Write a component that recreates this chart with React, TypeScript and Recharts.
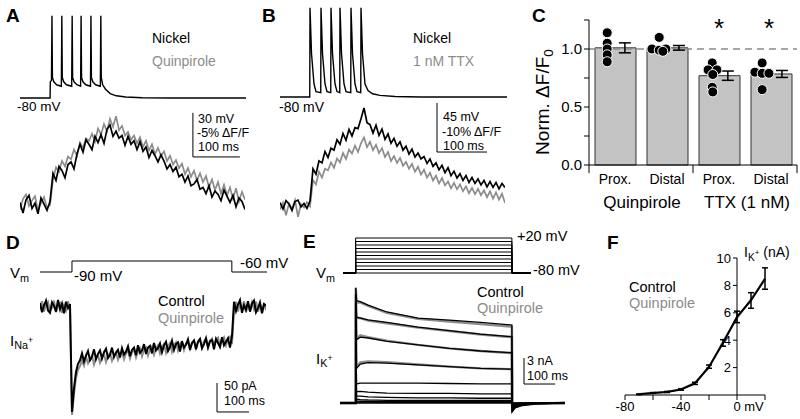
import React from "react"
import { LineChart, Line, XAxis, YAxis, ReferenceLine, ComposedChart, Bar, Scatter, ErrorBar } from "recharts"

// ---------- A: firing + fluorescence (Nickel vs Quinpirole)
const spikeATime = [0, 64, 64.5, 67, 68, 69, 72, 78, 88, 89, 90, 93, 99, 110, 111, 112, 115, 121, 129, 130, 131, 134, 140, 150, 151, 152, 155, 161, 171, 172, 173, 176, 182, 192, 205, 225, 260, 320, 481]
const spikeAVolt = [-80, -80, -69, -68, -24, -66, -69, -71, -72, -24, -66, -69, -71, -72, -24, -66, -69, -71, -72, -24, -66, -69, -71, -72, -24, -66, -69, -71, -72, -24, -66, -71, -74, -77, -78.5, -79.3, -79.8, -80, -80]

const fluoANickel = [
  0.3, -0.9, 0.6, 1.1, -0.4, 0.2, -1.0, 0.8, 0.1, -0.6, 0.4,
  3.6, 2.8, 4.4, 3.9, 3.1, 4.6, 4.9, 4.1, 5.8, 6.9,
  6.0, 7.4, 6.9, 6.3, 7.8, 7.1, 8.0, 7.0, 8.6, 9.1,
  7.8, 8.4, 7.6, 7.9, 6.8, 7.8, 6.9, 7.3, 6.3, 7.2,
  6.1, 6.6, 5.4, 6.2, 5.6, 4.9, 5.7, 5.0, 4.1, 4.6,
  3.8, 4.3, 3.2, 3.5, 2.6, 3.3, 2.2, 2.4, 2.9, 1.8,
  2.0, 1.3, 2.2, 0.9, 1.6, 1.2, 0.5, 1.7, 1.0, 0.3,
  1.1, -0.2, 0.8, 0.4, -0.5,
]
const fluoAQuin = [
  -0.5, 0.7, 1.2, -0.1, 0.5, 1.0, -0.6, 0.2, 0.9, -0.3, 0.0,
  2.9, 4.3, 3.8, 5.0, 4.4, 5.5, 5.2, 6.3, 5.6, 7.1,
  6.5, 7.6, 7.3, 8.1, 7.2, 8.7, 8.0, 9.2, 8.4, 9.8,
  8.9, 10.1, 8.5, 9.0, 7.9, 8.3, 7.4, 7.9, 7.0, 7.7,
  6.6, 7.3, 6.2, 6.9, 5.8, 6.5, 5.6, 6.1, 5.0, 5.6,
  4.6, 5.1, 4.2, 4.7, 3.5, 4.2, 3.2, 3.9, 2.8, 3.6,
  2.6, 3.3, 2.0, 2.9, 1.7, 2.6, 1.3, 2.3, 1.1, 2.0,
  0.7, 1.9, 0.4, 1.5, 0.6,
]

// ---------- B: firing + fluorescence (Nickel vs 1 nM TTX)
const spikeBTime = [0, 59.5, 60, 63, 68, 72, 81.5, 82, 85, 90, 94, 101.5, 102, 105, 110, 114, 119.5, 120, 123, 128, 132, 141.5, 142, 145, 150, 154, 161.5, 162, 165, 170, 176, 185, 200, 230, 280, 454]
const spikeBVolt = [-80, -80, 2, -40, -68, -75, -76, 2, -40, -68, -75, -76, 2, -40, -68, -75, -76, 2, -40, -68, -75, -76, 2, -40, -68, -75, -76, 2, -40, -68, -74, -77, -78.5, -79.5, -80, -80]

const fluoBNickel = [
  0.5, -0.8, 0.9, 0.2, -1.1, 0.7, 1.0, -0.4, 0.3, -0.7, 0.8,
  7.4, 6.3, 9.0, 8.6, 10.9, 9.7, 11.6, 11.2, 13.3, 12.4,
  14.6, 13.2, 15.4, 14.1, 15.8, 15.6, 17.6, 19.8, 16.8, 16.4,
  14.7, 16.3, 14.2, 15.5, 13.4, 14.5, 12.6, 13.6, 12.0, 12.9,
  11.2, 12.0, 10.4, 11.4, 9.8, 10.6, 9.4, 9.9, 8.5, 9.4,
  7.9, 8.6, 7.2, 8.1, 6.6, 7.6, 6.0, 6.9, 5.5, 6.4,
  5.0, 6.0, 4.6, 5.6, 4.4, 5.3, 4.1, 5.0, 3.7, 4.8,
  3.6, 4.6, 3.3, 4.4, 3.6,
]
const fluoBTTX = [
  -0.9, 0.5, -2.1, 0.3, -0.8, 1.0, -2.4, 0.2, -0.5, 0.6, -0.3,
  5.1, 4.2, 6.8, 5.6, 7.4, 7.1, 8.7, 7.6, 9.5, 8.7,
  10.6, 9.4, 11.3, 10.5, 12.1, 10.8, 12.6, 13.8, 11.8, 12.9,
  11.2, 12.3, 10.6, 11.6, 9.8, 10.8, 9.0, 10.0, 8.6, 9.6,
  8.0, 8.8, 7.4, 8.4, 6.8, 7.8, 6.2, 7.2, 5.6, 6.6,
  5.0, 6.0, 4.4, 5.5, 4.0, 4.8, 3.4, 4.5, 3.2, 4.2,
  2.8, 3.8, 2.4, 3.5, 2.2, 3.3, 2.0, 3.0, 1.6, 2.8,
  1.3, 2.6, 1.1, 2.3, 0.4,
]

// ---------- C: normalised dF/F
const groupNames = ["Prox.", "Distal", "Prox.", "Distal"]
const groupMean = [1.01, 1.01, 0.77, 0.785]
const groupSem = [0.043, 0.02, 0.04, 0.03]
const semX = [1.19, 2.23, 3.17, 4.21]
const cellX = [0.85, 0.85, 0.85, 0.85, 0.85, 1.85, 1.71, 1.85, 1.98, 1.92, 2.87, 2.79, 2.96, 2.88, 2.87, 2.88, 3.83, 3.69, 3.83, 3.96, 3.83]
const cellNorm = [1.14, 1.05, 1.0, 0.95, 0.89, 1.1, 1.0, 0.99, 1.0, 0.98, 0.88, 0.82, 0.82, 0.78, 0.67, 0.63, 0.88, 0.8, 0.79, 0.79, 0.65]

// ---------- D: Na current
const dVmTime = [0, 100, 100, 600, 600, 710]
const dVm = [-90, -90, -60, -60, -90, -90]
const D_SAMPLE_MS = 6.25
const dControl = [
  7, -9, 3, 11, -6, -10, 8, 2, -8, 12, -4, 6, -11, 9, -2, 5,
  -181, -140, -112, -98, -92,
  -80, -94, -84, -76, -92, -86, -73, -90, -81, -75,
  -89, -78, -72, -88, -83, -70, -86, -79, -74, -87,
  -71, -82, -77, -68, -85, -74, -70, -83, -66, -79,
  -75, -64, -81, -70, -67, -80, -62, -75, -71, -63,
  -78, -66, -60, -76, -69, -58, -74, -64, -61, -77,
  -59, -70, -65, -56, -74, -62, -58, -73, -60, -55,
  -71, -64, -54, -70, -59, -57, -73, -55, -62, -69,
  -52, -66, -60, -54, -70, -50,
  9, -7, 4, 12, -10, 3, -5, 10, -8, 6, 11, -9, -2, 8, -11, 5, 2,
]
const dQuin = [
  -4, 10, -8, 5, 9, -7, -2, 11, -9, 4, 7, -10, 3, -6, 10, -5,
  -186, -150, -122, -108, -102,
  -92, -101, -86, -97, -90, -84, -99, -88, -83, -96,
  -87, -81, -95, -84, -79, -93, -85, -78, -91, -82,
  -77, -90, -80, -75, -89, -78, -73, -87, -76, -71,
  -85, -74, -70, -84, -72, -68, -82, -71, -66, -80,
  -69, -64, -79, -67, -62, -77, -66, -61, -75, -64,
  -60, -74, -63, -59, -72, -62, -57, -71, -60, -56,
  -70, -59, -55, -69, -58, -54, -68, -57, -53, -67,
  -56, -52, -66, -55, -51, -64,
  -6, 9, -8, 7, -5, 10, -9, 6, -7, 8, -4, 9, -8, 6, -10, 7, -5,
]

// ---------- E: K currents, steps -80..+20 mV
const stepLevels = [20, 10, 0, -10, -20, -30, -40, -50, -60, -70, -80]
const eVmTime = [10, 50, 50, 550, 550, 610]
const eTime = [0, 50, 50.5, 53, 65, 90, 150, 250, 350, 450, 550, 551, 560, 580, 620, 720]
const eControl = [
  [0, 0, 13.3, 11.8, 11.7, 11.3, 10.5, 9.8, 9.55, 9.3, 9.0, -1.0, -0.55, -0.3, -0.1, 0],
  [0, 0, 12.5, 9.9, 9.8, 9.6, 9.3, 8.75, 8.35, 7.95, 7.65, -0.9, -0.5, -0.27, -0.09, 0],
  [0, 0, 11.5, 7.3, 7.6, 7.5, 7.1, 6.7, 6.3, 6.0, 5.8, -0.8, -0.44, -0.24, -0.08, 0],
  [0, 0, 10.5, 4.0, 4.5, 4.65, 4.6, 4.4, 4.2, 4.0, 3.9, -0.65, -0.36, -0.2, -0.07, 0],
  [0, 0, 9.0, 2.2, 2.3, 2.3, 2.3, 2.3, 2.25, 2.2, 2.2, -0.5, -0.28, -0.15, -0.05, 0],
  [0, 0, 7.5, 1.3, 1.35, 1.25, 1.15, 1.1, 1.1, 1.05, 1.05, -0.35, -0.19, -0.1, -0.04, 0],
  [0, 0, 6.0, 0.8, 0.8, 0.7, 0.65, 0.6, 0.6, 0.55, 0.55, -0.25, -0.14, -0.08, -0.03, 0],
  [0, 0, 4.5, 0.45, 0.4, 0.35, 0.3, 0.3, 0.3, 0.3, 0.3, -0.15, -0.08, -0.05, -0.02, 0],
  [0, 0, 3.0, 0.25, 0.2, 0.2, 0.15, 0.15, 0.15, 0.15, 0.15, -0.1, -0.06, -0.03, -0.01, 0],
  [0, 0, 1.5, 0.1, 0.1, 0.1, 0.08, 0.08, 0.08, 0.08, 0.08, -0.05, -0.03, -0.02, 0, 0],
  [0, 0, 0, 0, 0, 0, 0, 0, 0, 0, 0, 0, 0, 0, 0, 0],
]
const eQuin = [
  [0, 0, 13.3, 11.6, 11.6, 11.2, 10.4, 9.7, 9.4, 9.1, 8.8, -0.9, -0.5, -0.28, -0.1, 0],
  [0, 0, 12.5, 9.8, 9.8, 9.5, 9.2, 8.7, 8.3, 7.9, 7.6, -0.85, -0.48, -0.25, -0.08, 0],
  [0, 0, 11.5, 7.4, 7.8, 7.6, 7.2, 6.7, 6.3, 6.0, 5.75, -0.75, -0.42, -0.22, -0.07, 0],
  [0, 0, 10.5, 4.1, 4.7, 4.8, 4.7, 4.45, 4.2, 4.0, 3.9, -0.6, -0.34, -0.18, -0.06, 0],
]

// ---------- F: I-V
const fVolt = [-70, -60, -50, -40, -30, -20, -10, 0, 10, 20]
const fControl = [0.05, 0.15, 0.22, 0.4, 0.85, 2.07, 3.8, 5.7, 6.9, 8.5]
const fControlSem = [0.03, 0.03, 0.04, 0.05, 0.08, 0.12, 0.24, 0.42, 0.57, 0.78]
const fQuin = [0.07, 0.14, 0.24, 0.43, 0.9, 2.0, 3.9, 5.6, 7.0, 8.4]
const fTicks = [2, 4, 6, 8, 10]

const BLACK = "#000"
const GRAY = "#8c8c8c"

const Sub = ({ children }: any) => (
  <span style={{ fontSize: "0.72em", verticalAlign: "-0.35em", lineHeight: 0 }}>{children}</span>
)
const Sup = ({ children }: any) => (
  <span style={{ fontSize: "0.8em", verticalAlign: "0.75em", lineHeight: 0 }}>{children}</span>
)

const T = ({ x, y, s = 14, c = BLACK, b = false, mid = false, children }: any) => (
  <div
    style={{
      position: "absolute",
      left: x,
      top: y - s / 2,
      fontSize: s,
      lineHeight: 1,
      color: c,
      fontWeight: b ? "bold" : "normal",
      whiteSpace: "nowrap",
      transform: mid ? "translateX(-50%)" : undefined,
    }}
  >
    {children}
  </div>
)

const Trace = ({ left, top, width, height, data, xKey, xDomain, yDomain, lines, scale = [] }: any) => (
  <div style={{ position: "absolute", left, top }}>
    <LineChart width={width} height={height} data={data} margin={{ top: 0, right: 0, bottom: 0, left: 0 }}>
      <XAxis dataKey={xKey} type="number" domain={xDomain} hide allowDataOverflow />
      <YAxis type="number" domain={yDomain} hide allowDataOverflow />
      {lines.map((l: any) => (
        <Line
          key={l.key}
          dataKey={l.key}
          stroke={l.color}
          strokeWidth={l.width ?? 1.2}
          dot={false}
          type="linear"
          isAnimationActive={false}
        />
      ))}
      {scale.map((s: number[], i: number) => (
        <ReferenceLine
          key={i}
          segment={[{ x: s[0], y: s[1] }, { x: s[2], y: s[3] }]}
          stroke={BLACK}
          strokeWidth={1}
          ifOverflow="visible"
        />
      ))}
    </LineChart>
  </div>
)

const CatTick = ({ x, y, payload }: any) => (
  <text x={x} y={y} dy={11} textAnchor="middle" fontSize={14} fill={BLACK}>
    {payload.value}
  </text>
)

const MvTick = ({ x, y, payload }: any) => {
  const v = payload.value
  if (v === 0)
    return (
      <text x={x - 3.6} y={y} dy="0.71em" textAnchor="start" fontSize={13} fill={BLACK}>
        0 mV
      </text>
    )
  if (v === -80 || v === -40)
    return (
      <text x={x} y={y} dy="0.71em" textAnchor="middle" fontSize={13} fill={BLACK}>
        {v}
      </text>
    )
  return null
}

const CellDot = (p: any) => <circle cx={p.cx} cy={p.cy} r={5} fill={BLACK} stroke="#fff" strokeWidth={1} />
const NoMark = () => <g />

export default function App() {
  const spikeA = spikeATime.map((t, i) => ({ t, v: spikeAVolt[i] }))
  const fluoA = fluoANickel.map((v, i) => ({ i, nickel: v, quin: fluoAQuin[i] }))
  const spikeB = spikeBTime.map((t, i) => ({ t, v: spikeBVolt[i] }))
  const fluoB = fluoBNickel.map((v, i) => ({ i, nickel: v, ttx: fluoBTTX[i] }))
  const vmD = dVmTime.map((t, i) => ({ t, v: dVm[i] }))
  const curD = dControl.map((v, i) => ({ i, control: v, quin: dQuin[i] }))

  const vmE = eVmTime.map((t, j) => {
    const row: any = { t }
    stepLevels.forEach((L, k) => {
      row["s" + k] = j === 2 || j === 3 ? L : -80
    })
    return row
  })
  const curE = eTime.map((t, j) => {
    const row: any = { t }
    eControl.forEach((tr, k) => (row["c" + k] = tr[j]))
    eQuin.forEach((tr, k) => (row["q" + k] = tr[j]))
    return row
  })

  const barData = groupNames.map((name, i) => ({ name, mean: groupMean[i] }))
  const semData = semX.map((x, i) => ({ x, y: groupMean[i], err: groupSem[i] }))
  const cellData = cellX.map((x, i) => ({ x, y: cellNorm[i] }))
  const ivData = fVolt.map((v, i) => ({ v, control: fControl[i], sem: fControlSem[i], quin: fQuin[i] }))

  return (
    <div
      style={{
        position: "absolute",
        left: 0,
        top: 0,
        width: 800,
        height: 419,
        background: "#fff",
        overflow: "hidden",
        fontFamily: '"Liberation Sans", Arial, sans-serif',
      }}
    >
      {/* A */}
      <Trace left={20} top={5} width={225} height={220} data={fluoA} xKey="i" xDomain={[0, 75]} yDomain={[-2.27, 22.73]}
        lines={[{ key: "quin", color: GRAY, width: 1.7 }, { key: "nickel", color: BLACK, width: 1.7 }]} />
      <Trace left={20} top={5} width={226} height={220} data={spikeA} xKey="t" xDomain={[0, 481]} yDomain={[-166.4, -16.73]}
        lines={[{ key: "v", color: BLACK, width: 1.4 }]}
        scale={[[368, -90.1, 368, -120.1], [368, -120.1, 468, -120.1]]} />
      <T x={6} y={15} s={19} b>A</T>
      <T x={152} y={38} s={14}>Nickel</T>
      <T x={152} y={61} s={14} c={GRAY}>Quinpirole</T>
      <T x={17} y={107} s={13.5}>-80 mV</T>
      <T x={198} y={119} s={12.5}>30 mV</T>
      <T x={197} y={133} s={12.5}>-5% ΔF/F</T>
      <T x={198} y={147} s={12.5}>100 ms</T>

      {/* B */}
      <Trace left={280} top={5} width={225} height={220} data={fluoB} xKey="i" xDomain={[0, 75]} yDomain={[-4.08, 40.82]}
        lines={[{ key: "ttx", color: GRAY, width: 1.7 }, { key: "nickel", color: BLACK, width: 1.7 }]} />
      <Trace left={280} top={5} width={227} height={220} data={spikeB} xKey="t" xDomain={[0, 454]} yDomain={[-197.5, 4.48]}
        lines={[{ key: "v", color: BLACK, width: 1.4 }]}
        scale={[[314, -85.5, 314, -130.5], [314, -130.5, 414, -130.5]]} />
      <T x={262} y={15} s={19} b>B</T>
      <T x={413} y={38} s={14}>Nickel</T>
      <T x={413} y={61} s={14} c={GRAY}>1 nM TTX</T>
      <T x={279} y={107} s={14}>-80 mV</T>
      <T x={443} y={117} s={12.5}>45 mV</T>
      <T x={442} y={132} s={12.5}>-10% ΔF/F</T>
      <T x={443} y={146} s={12.5}>100 ms</T>

      {/* C */}
      <div style={{ position: "absolute", left: 544, top: 10 }}>
        <ComposedChart width={256} height={185} data={barData} margin={{ top: 10, right: 3, bottom: 0, left: 0 }}>
          <XAxis dataKey="name" xAxisId="cat" height={30} interval={0} tickLine={false} axisLine={{ stroke: BLACK }} tick={<CatTick />} />
          <XAxis dataKey="x" xAxisId="num" type="number" domain={[0.5, 4.5]} hide />
          <YAxis
            width={45}
            type="number"
            domain={[0, 1.25]}
            ticks={[0, 0.25, 0.5, 0.75, 1, 1.25]}
            tickFormatter={(v: number) => (v === 0 || v === 0.5 || v === 1 ? v.toFixed(1) : "")}
            tick={{ fontSize: 15, fill: BLACK }}
            tickSize={5}
            tickLine={{ stroke: BLACK }}
            axisLine={{ stroke: BLACK }}
          />
          <ReferenceLine y={1} xAxisId="cat" stroke="#8a8a8a" strokeWidth={1.5} strokeDasharray="7 5" />
          <Bar xAxisId="cat" dataKey="mean" fill="#c3c3c3" stroke="#333" strokeWidth={1} barSize={41} isAnimationActive={false} />
          <Scatter xAxisId="num" data={cellData} dataKey="y" shape={CellDot} isAnimationActive={false} />
          <Scatter xAxisId="num" data={semData} dataKey="y" shape={NoMark} isAnimationActive={false}>
            <ErrorBar dataKey="err" direction="y" width={6} stroke={BLACK} strokeWidth={1.5} />
          </Scatter>
          {[0.5, 2.5, 4.5].map((x) => (
            <ReferenceLine key={x} xAxisId="num" segment={[{ x, y: 0 }, { x, y: -0.07 }]} stroke={BLACK} ifOverflow="visible" />
          ))}
        </ComposedChart>
      </div>
      <T x={532} y={15} s={19} b>C</T>
      <div
        style={{
          position: "absolute",
          left: 542,
          top: 102,
          fontSize: 19,
          lineHeight: 1,
          whiteSpace: "nowrap",
          transform: "translate(-50%, -50%) rotate(-90deg)",
        }}
      >
        Norm. ΔF/F<Sub>0</Sub>
      </div>
      <T x={719} y={28} s={26} mid>*</T>
      <T x={769} y={28} s={26} mid>*</T>
      <T x={642} y={202} s={17} mid>Quinpirole</T>
      <T x={747} y={202} s={17} mid>TTX (1 nM)</T>

      {/* D */}
      <Trace left={40} top={250} width={227} height={30} data={vmD} xKey="t" xDomain={[0, 710]} yDomain={[-111.8, -30]}
        lines={[{ key: "v", color: BLACK, width: 1 }]} />
      <Trace left={40} top={290} width={226} height={125} data={curD} xKey="i" xDomain={[0, 113]} yDomain={[-186.2, 29.3]}
        lines={[{ key: "quin", color: GRAY, width: 2 }, { key: "control", color: BLACK, width: 2 }]}
        scale={[[88.5, -131, 88.5, -181], [88.5, -181, 88.5 + 100 / D_SAMPLE_MS, -181]]} />
      <T x={6} y={242} s={19} b>D</T>
      <T x={10} y={272} s={15}>V<Sub>m</Sub></T>
      <T x={74} y={275} s={15}>-90 mV</T>
      <T x={240} y={262} s={15}>-60 mV</T>
      <T x={158} y={301} s={14.5}>Control</T>
      <T x={158} y={318} s={14.5} c={GRAY}>Quinpirole</T>
      <T x={10} y={340} s={15}>I<Sub>Na<Sup>+</Sup></Sub></T>
      <T x={224} y={386} s={12.5}>50 pA</T>
      <T x={224} y={401} s={12.5}>100 ms</T>

      {/* E */}
      <Trace left={340} top={230} width={225} height={50} data={vmE} xKey="t" xDomain={[0, 720]} yDomain={[-100, 42.86]}
        lines={stepLevels.map((_, k) => ({ key: "s" + k, color: BLACK, width: 1 }))} />
      <Trace left={340} top={280} width={225} height={135} data={curE} xKey="t" xDomain={[0, 720]} yDomain={[-1.384, 14.19]}
        lines={[
          ...eQuin.map((_, k) => ({ key: "q" + k, color: GRAY, width: 2.4 })),
          ...eControl.map((_, k) => ({ key: "c" + k, color: BLACK, width: 1.3 })),
        ]}
        scale={[[588.8, 5.19, 588.8, 2.19], [588.8, 2.19, 688.8, 2.19]]} />
      <T x={303} y={241} s={19} b>E</T>
      <T x={316} y={272} s={15}>V<Sub>m</Sub></T>
      <T x={517} y={236} s={14.5}>+20 mV</T>
      <T x={533} y={270} s={14.5}>-80 mV</T>
      <T x={477} y={292} s={14.5}>Control</T>
      <T x={477} y={308} s={14.5} c={GRAY}>Quinpirole</T>
      <T x={316} y={358} s={15}>I<Sub>K<Sup>+</Sup></Sub></T>
      <T x={527} y={361} s={12.5}>3 nA</T>
      <T x={527} y={376} s={12.5}>100 ms</T>

      {/* F: y axis drawn at 0 mV by its own chart */}
      <div style={{ position: "absolute", left: 707, top: 250 }}>
        <LineChart width={60} height={153} data={ivData} margin={{ top: 8, right: 0, bottom: 8, left: 0 }}>
          <XAxis dataKey="v" type="number" domain={[0, 20]} hide allowDataOverflow />
          <YAxis
            type="number"
            domain={[0, 10]}
            ticks={fTicks}
            interval={0}
            width={30}
            tickSize={4}
            tick={{ fontSize: 13, fill: BLACK }}
            tickLine={{ stroke: BLACK }}
            axisLine={{ stroke: BLACK }}
            allowDataOverflow
          />
          <Line dataKey="control" stroke="none" dot={false} isAnimationActive={false} />
        </LineChart>
      </div>
      <div style={{ position: "absolute", left: 610, top: 250 }}>
        <LineChart width={175} height={170} data={ivData} margin={{ top: 8, right: 20, bottom: 0, left: 15 }}>
          <XAxis
            dataKey="v"
            type="number"
            domain={[-80, 20]}
            ticks={[-80, -60, -40, -20, 0, 20]}
            interval={0}
            height={25}
            tickSize={5}
            tick={<MvTick />}
            tickLine={{ stroke: BLACK }}
            axisLine={{ stroke: BLACK }}
          />
          <YAxis type="number" domain={[0, 10]} hide />
          <Line dataKey="quin" stroke={GRAY} strokeWidth={2} dot={false} isAnimationActive={false} />
          <Line dataKey="control" stroke={BLACK} strokeWidth={2} dot={false} isAnimationActive={false}>
            <ErrorBar dataKey="sem" direction="y" width={3} stroke={BLACK} strokeWidth={1.5} />
          </Line>
        </LineChart>
      </div>
      <T x={607} y={242} s={19} b>F</T>
      <T x={629} y={287} s={14.5}>Control</T>
      <T x={629} y={303} s={14.5} c={GRAY}>Quinpirole</T>
      <T x={744} y={252} s={14}>I<Sub>K<Sup>+</Sup></Sub> (nA)</T>
    </div>
  )
}
